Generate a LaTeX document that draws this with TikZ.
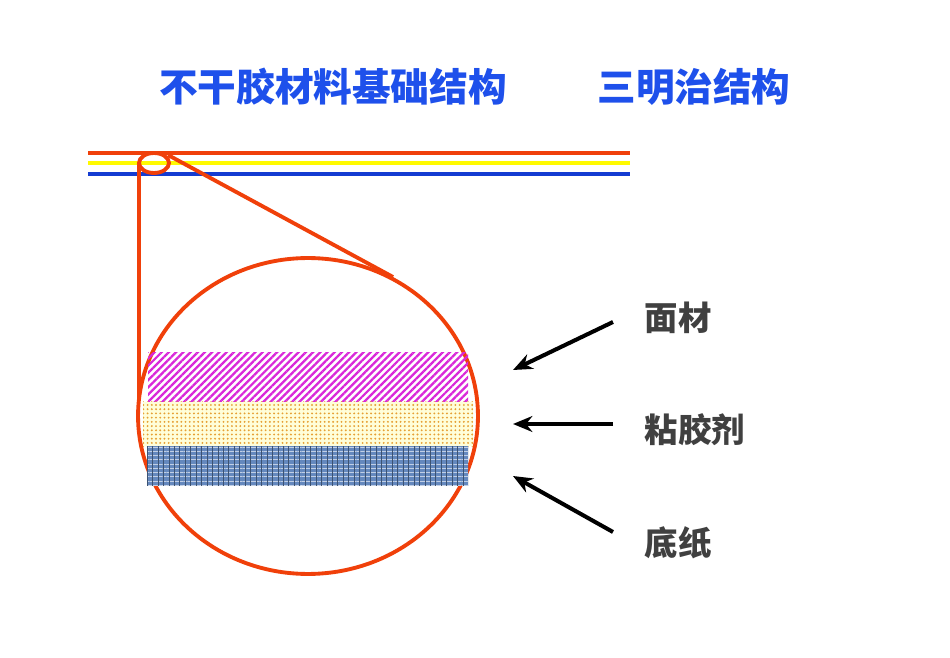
\documentclass[tikz,border=0pt]{standalone}
\usepackage{fontspec}
\newfontfamily\cjk{Noto Sans CJK SC}
\usetikzlibrary{positioning,patterns,patterns.meta,arrows.meta,shapes.geometric}
\definecolor{TitleBlue}{rgb}{0.1176471,0.3137255,0.9215686}
\definecolor{LineRed}{rgb}{0.9411765,0.2509804,0.0392157}
\definecolor{LineYellow}{rgb}{1.0000000,0.9803922,0.0000000}
\definecolor{LineBlue}{rgb}{0.0784314,0.2352941,0.8235294}
\definecolor{FaceMagenta}{rgb}{0.8509804,0.1568627,0.8509804}
\definecolor{GlueOrange}{rgb}{0.9019608,0.6274510,0.2000000}
\definecolor{PaperBlue}{rgb}{0.3921569,0.5333333,0.7450980}
\definecolor{LabelGray}{rgb}{0.2509804,0.2509804,0.2509804}

\begin{document}
\begin{tikzpicture}[x=0.02cm, y=-0.02cm,
    title/.style={font=\cjk\bfseries\fontsize{22}{26}\selectfont, text=TitleBlue},
    label/.style={font=\cjk\bfseries\fontsize{19}{23}\selectfont, text=LabelGray},
    pointer/.style={-{Stealth[length=11pt,width=9pt]}, line width=2.3pt, black}]
  \useasboundingbox (0,0) rectangle (950,658);

  % titles
  \node[title] (t0) at (333,87) {不干胶材料基础结构};
  \node[title] (t1) at (694,87) {三明治结构};

  % the sheet seen edge on
  \draw[LineRed, line width=2.3pt] (88,153) -- (630,153);
  \draw[LineYellow, line width=2.3pt] (88,163) -- (630,163);
  \draw[LineBlue, line width=2.3pt] (88,174) -- (630,174);

  % magnifier
  \node[ellipse, draw=LineRed, line width=2.2pt, minimum width=0.6cm, minimum height=0.4cm, inner sep=0pt] (lens) at (154,163) {};
  \node[ellipse, draw=LineRed, line width=2.2pt, minimum width=6.8cm, minimum height=6.32cm, inner sep=0pt] (zoom) at (308,416) {};
  \coordinate (c0) at (139,164);
  \coordinate (c1) at (139,400);
  \coordinate (c2) at (168,155);
  \coordinate (c3) at (393,277);
  \draw[LineRed, line width=2.2pt] (c0) -- (c1);
  \draw[LineRed, line width=2.2pt] (c2) -- (c3);

  % layers
  \fill[pattern={Lines[angle=45,distance=2.9pt,line width=1.3pt]}, pattern color=FaceMagenta] (148,353) rectangle (468,402);
  \fill[LineYellow!15] (143,402) rectangle (473,446);
  \fill[pattern={Dots[distance=2.4pt,radius=0.6pt]}, pattern color=GlueOrange] (143,402) rectangle (473,446);
  \fill[PaperBlue] (147,446) rectangle (468,485);
  \fill[pattern={Lines[angle=0,distance=2.4pt,line width=0.4pt]}, pattern color=PaperBlue!40!white] (147,446) rectangle (468,485);
  \fill[pattern={Lines[angle=90,distance=3.1pt,line width=0.3pt]}, pattern color=PaperBlue!60!black] (147,446) rectangle (468,485);

  % labels and arrows
  \node[label] (l0) at (678,318) {面材};
  \node[label] (l1) at (695,430) {粘胶剂};
  \node[label] (l2) at (678,543) {底纸};
  \coordinate (a0) at (613,322);
  \coordinate (a1) at (613,424);
  \coordinate (a2) at (613,532);
  \coordinate (b0) at (513,370);
  \coordinate (b1) at (513,424);
  \coordinate (b2) at (513,476);
  \draw[pointer] (a0) -- (b0);
  \draw[pointer] (a1) -- (b1);
  \draw[pointer] (a2) -- (b2);
\end{tikzpicture}
\end{document}
